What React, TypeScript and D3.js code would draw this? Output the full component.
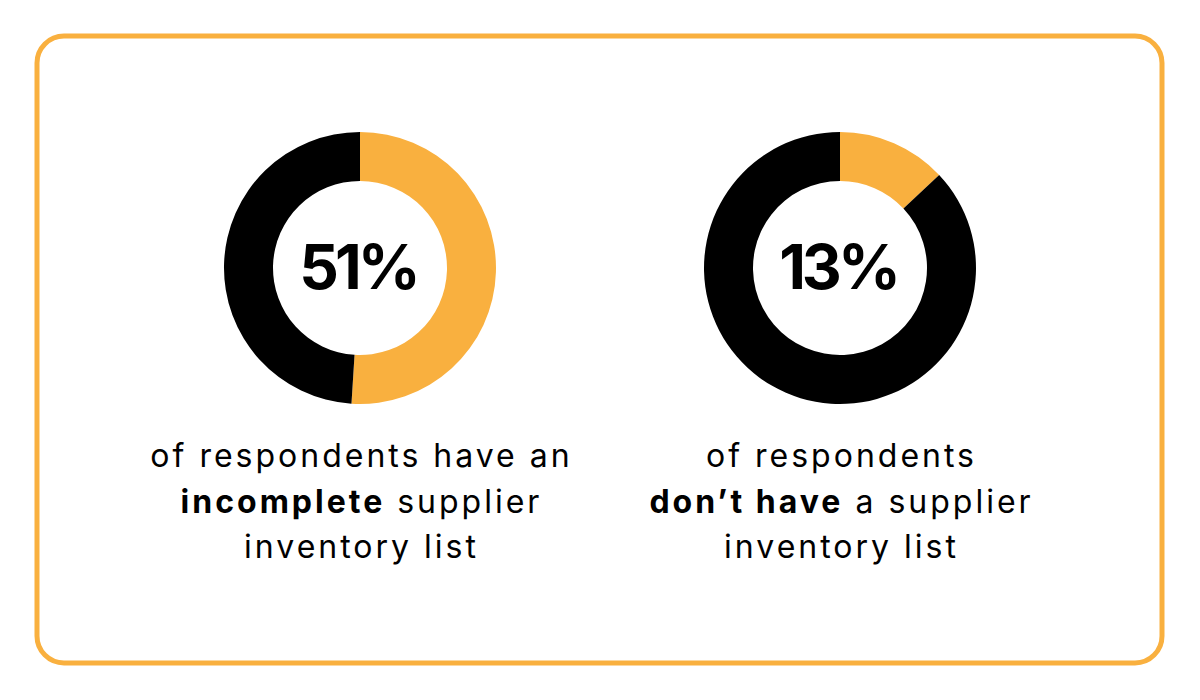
import React from "react";
import * as d3 from "d3";

const ORANGE = "#F9B03F";
const BLACK = "#000000";

const charts = ["incomplete", "none"];
const percentages = [51, 13];
const labels = ["51%", "13%"];
const captionLines: { text: string; bold: boolean }[][][] = [
  [
    [{ text: "of respondents have an", bold: false }],
    [
      { text: "incomplete", bold: true },
      { text: " supplier", bold: false },
    ],
    [{ text: "inventory list", bold: false }],
  ],
  [
    [{ text: "of respondents", bold: false }],
    [
      { text: "don\u2019t have", bold: true },
      { text: " a supplier", bold: false },
    ],
    [{ text: "inventory list", bold: false }],
  ],
];

const W = 1200;
const H = 700;
const FONT = "Inter, 'Open Sans', sans-serif";

export default function App() {
  const x = d3.scalePoint<string>().domain(charts).range([360, 840]);
  const outerR = 136;
  const innerR = 87;
  const cy = 268;
  const pie = d3
    .pie<{ key: string; v: number }>()
    .sort(null)
    .value((d) => d.v);
  const arc = d3
    .arc<d3.PieArcDatum<{ key: string; v: number }>>()
    .innerRadius(innerR)
    .outerRadius(outerR);

  const baselines = [467, 513, 558];
  const ls = 3;

  return (
    <div style={{ position: "absolute", left: 0, top: 0, width: W, height: H }}>
      <svg width={W} height={H} style={{ display: "block", background: "#fff" }}>
        <rect
          x={37}
          y={36}
          width={1125}
          height={627}
          rx={27}
          ry={27}
          fill="#fff"
          stroke={ORANGE}
          strokeWidth={5}
        />
        {charts.map((c, i) => {
          const data = [
            { key: "yes", v: percentages[i] },
            { key: "rest", v: 100 - percentages[i] },
          ];
          const arcs = pie(data);
          const cx = x(c) as number;
          return (
            <g key={c}>
              <g transform={`translate(${cx},${cy})`}>
                {arcs.map((a) => (
                  <path
                    key={a.data.key}
                    d={arc(a) as string}
                    fill={a.data.key === "yes" ? ORANGE : BLACK}
                  />
                ))}
                <text
                  x={-2}
                  y={21}
                  textAnchor="middle"
                  fontFamily={FONT}
                  fontWeight={700}
                  fontSize={62}
                  letterSpacing={-4}
                  fill="#000"
                >
                  {labels[i]}
                </text>
              </g>
              {captionLines[i].map((line, li) => (
                <text
                  key={li}
                  x={cx + ls / 2}
                  y={baselines[li]}
                  textAnchor="middle"
                  fontFamily={FONT}
                  fontSize={32}
                  letterSpacing={ls}
                  fill="#000"
                >
                  {line.map((seg, si) => (
                    <tspan key={si} fontWeight={seg.bold ? 700 : 400}>
                      {seg.text}
                    </tspan>
                  ))}
                </text>
              ))}
            </g>
          );
        })}
      </svg>
    </div>
  );
}
